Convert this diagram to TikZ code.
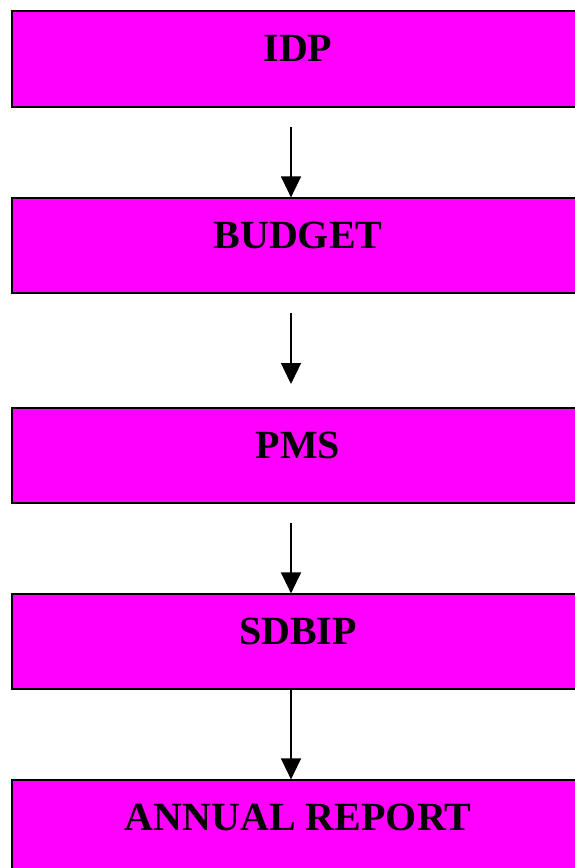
\documentclass[tikz,border=0pt]{standalone}
\usepackage{fontspec}
\setmainfont{Liberation Serif}
\usetikzlibrary{arrows.meta}
\definecolor{boxmag}{HTML}{FF00FF}
\tikzset{
  stagebox/.style={draw=black, line width=1.2pt, fill=boxmag, minimum width=572pt,
    inner xsep=0pt, inner ysep=0pt, text height=50pt, text depth=#1,
    font=\fontsize{40}{46}\selectfont\bfseries},
  stagebox/.default=46pt,
  flowarrow/.style={line width=1.3pt, -{Triangle[length=21pt,width=20pt]}}
}
\begin{document}
\begin{tikzpicture}
\useasboundingbox (0pt,0pt) rectangle (574pt,-868pt);
\node[stagebox] (b1) at (298pt,-59pt) {IDP};
\node[stagebox=45pt] (b2) at (298pt,-245.5pt) {BUDGET};
\node[stagebox=45pt] (b3) at (298pt,-455.5pt) {PMS};
\node[stagebox=45pt] (b4) at (298pt,-641.5pt) {SDBIP};
\node[stagebox] (b5) at (298pt,-828pt) {ANNUAL REPORT};
\coordinate (a1) at (291pt,-127pt);
\coordinate (a2) at (291pt,-313pt);
\coordinate (a2e) at (291pt,-384pt);
\coordinate (a3) at (291pt,-523pt);
\draw[flowarrow] (a1) -- (a1 |- b2.north);
\draw[flowarrow] (a2) -- (a2e);
\draw[flowarrow] (a3) -- (a3 |- b4.north);
\draw[flowarrow] (a3 |- b4.south) -- (a3 |- b5.north);
\end{tikzpicture}
\end{document}
